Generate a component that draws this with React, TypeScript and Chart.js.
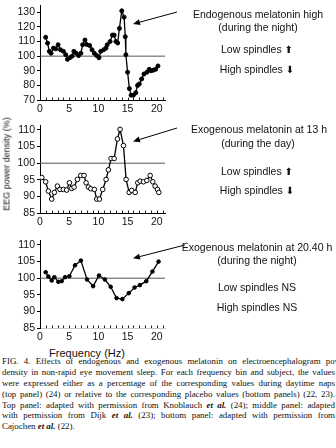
import React, { useEffect, useRef } from "react";
import { Chart, registerables } from "chart.js";
Chart.register(...registerables);

// ---------- data ----------
const freqTicks = [0, 5, 10, 15, 20];
const baselineValue = 100;
const freqMax = 21.4;

const endoYTicks = [70, 80, 90, 100, 110, 120, 130];
const exoYTicks = [85, 90, 95, 100, 105, 110];

// top panel: endogenous melatonin high (during the night)
const endoFreq = [0.97, 1.3, 1.6, 1.9, 2.3, 2.7, 3.1, 3.5, 4.0, 4.4, 4.7, 5.1, 5.5, 5.8, 6.2, 6.6, 7.0, 7.3, 7.7, 8.0, 8.5, 8.9, 9.3, 9.7, 10.1, 10.4, 10.9, 11.3, 11.5, 12.0, 12.4, 12.7, 13.0, 13.3, 13.6, 14.0, 14.4, 14.6, 14.7, 15.0, 15.3, 15.6, 16.0, 16.4, 16.7, 17.0, 17.4, 17.8, 18.3, 18.7, 19.0, 19.4, 19.8, 20.2];
const endoPower = [112.9, 108.9, 103.3, 102, 105.5, 105, 107.8, 104.4, 103.3, 101, 97.8, 98.9, 100, 103.3, 102, 100.4, 102, 107.8, 111, 108, 107.3, 104.4, 102, 100.4, 98.9, 103.3, 104.4, 105.5, 107.8, 110, 114.4, 114.4, 110, 109, 119, 131, 126.7, 113.3, 101, 89, 77.8, 73.3, 73.3, 75, 80, 81, 84.4, 87.8, 89, 91, 90, 90.4, 91, 93.3];

// middle panel: exogenous melatonin at 13 h (during the day)
const exo13Freq = [0.3, 0.97, 1.43, 2.0, 2.46, 2.97, 3.43, 4.0, 4.57, 5.03, 5.43, 5.83, 6.4, 6.97, 7.54, 7.89, 8.29, 8.69, 9.31, 9.71, 10.17, 10.74, 11.31, 11.71, 12.17, 12.69, 13.26, 13.71, 14.29, 14.74, 15.26, 15.71, 16.29, 16.74, 17.14, 17.71, 18.29, 18.86, 19.31, 19.71, 20.11, 20.35];
const exo13Power = [95.7, 94.4, 91.6, 89.2, 91.2, 93.1, 92.1, 92.1, 91.9, 94.1, 92.4, 92.8, 95.1, 96.3, 96.3, 94.1, 92.8, 92.3, 92.1, 89.2, 89.2, 92.1, 95.1, 98, 101.4, 101.4, 107.3, 110.2, 105.3, 95.1, 91.2, 91.8, 91.2, 94.1, 94.6, 94.4, 94.8, 96.3, 94.4, 93.1, 92.1, 91.2];

// bottom panel: exogenous melatonin at 20.40 h (during the night)
const exo2040Freq = [0.97, 1.43, 2.0, 2.46, 3.14, 3.71, 4.29, 5.03, 6.0, 7.0, 8.05, 9.1, 10.1, 11.1, 12.1, 13.1, 14.1, 15.2, 16.2, 17.1, 18.2, 19.25, 20.3];
const exo2040Power = [101.8, 100.5, 99.3, 100.3, 98.9, 99.1, 100.3, 100.6, 103.9, 105.3, 99.6, 97.6, 100.8, 99.6, 97.4, 94, 93.7, 95.5, 97.2, 97.9, 99.1, 102, 105];

// ---------- helpers ----------
const SANS = "'Liberation Sans', Arial, Helvetica, sans-serif";

type PanelCfg = {
  freq: number[];
  power: number[];
  yMin: number;
  yMax: number;
  yTicks: number[];
  pointRadius: number;
  pointFill: string;
  xBorderColor: string;
  arrow: { x1: number; y1: number; x2: number; y2: number };
};

function buildChart(canvas: HTMLCanvasElement, cfg: PanelCfg) {
  const extras = {
    id: "extras",
    afterDraw(chart: any) {
      const ctx = chart.ctx as CanvasRenderingContext2D;
      const xs = chart.scales.x;
      const bottom = chart.chartArea.bottom;
      ctx.save();
      ctx.strokeStyle = "#222";
      ctx.lineWidth = 1;
      ctx.beginPath();
      for (let f = 1; f <= 21; f++) {
        const px = Math.round(xs.getPixelForValue(f)) + 0.5;
        ctx.moveTo(px, bottom);
        ctx.lineTo(px, bottom - 2.5);
      }
      ctx.stroke();
      // annotation arrow
      const { x1, y1, x2, y2 } = cfg.arrow;
      ctx.strokeStyle = "#000";
      ctx.fillStyle = "#000";
      ctx.lineWidth = 1;
      const ang = Math.atan2(y2 - y1, x2 - x1);
      const hl = 7;
      const hw = 3;
      const bx = x2 - hl * Math.cos(ang);
      const by = y2 - hl * Math.sin(ang);
      ctx.beginPath();
      ctx.moveTo(x1, y1);
      ctx.lineTo(bx, by);
      ctx.stroke();
      ctx.beginPath();
      ctx.moveTo(x2, y2);
      ctx.lineTo(bx + hw * Math.sin(ang), by - hw * Math.cos(ang));
      ctx.lineTo(bx - hw * Math.sin(ang), by + hw * Math.cos(ang));
      ctx.closePath();
      ctx.fill();
      ctx.restore();
    },
  };

  return new Chart(canvas, {
    type: "line",
    data: {
      datasets: [
        {
          data: cfg.freq.map((f, i) => ({ x: f, y: cfg.power[i] })),
          borderColor: "#000",
          borderWidth: 1.3,
          pointRadius: cfg.pointRadius,
          pointBackgroundColor: cfg.pointFill,
          pointBorderColor: "#000",
          pointBorderWidth: 1,
          tension: 0,
        },
        {
          data: [
            { x: 0, y: baselineValue },
            { x: freqMax, y: baselineValue },
          ],
          borderColor: "#555",
          borderWidth: 1,
          pointRadius: 0,
          tension: 0,
        },
      ],
    },
    options: {
      animation: false,
      responsive: false,
      maintainAspectRatio: false,
      layout: { padding: { top: 2, right: 171, bottom: 0, left: 0 } },
      plugins: { legend: { display: false }, tooltip: { enabled: false } },
      scales: {
        x: {
          type: "linear",
          min: 0,
          max: freqMax,
          afterBuildTicks: (s: any) => {
            s.ticks = freqTicks.map((v) => ({ value: v }));
          },
          afterFit: (s: any) => {
            s.height = 14;
            s.paddingLeft = 0;
            s.paddingRight = 0;
          },
          grid: { display: false, drawTicks: false },
          border: { display: true, color: cfg.xBorderColor, width: 1 },
          ticks: {
            padding: 3,
            color: "#111",
            font: { family: SANS, size: 10.5 },
            maxRotation: 0,
            autoSkip: false,
          },
        },
        y: {
          type: "linear",
          min: cfg.yMin,
          max: cfg.yMax,
          afterBuildTicks: (s: any) => {
            s.ticks = cfg.yTicks.map((v) => ({ value: v }));
          },
          afterFit: (s: any) => {
            s.width = 40;
            s.paddingTop = 0;
            s.paddingBottom = 0;
          },
          grid: { display: true, drawOnChartArea: false, drawTicks: true, tickLength: 3, color: "#000" },
          border: { display: true, color: "#000", width: 1 },
          ticks: {
            padding: 2,
            color: "#111",
            font: { family: SANS, size: 10.5 },
            autoSkip: false,
          },
        },
      },
    },
    plugins: [extras],
  } as any);
}

function Panel(props: { top: number; height: number; cfg: PanelCfg }) {
  const ref = useRef<HTMLCanvasElement | null>(null);
  useEffect(() => {
    if (!ref.current) return;
    const c = buildChart(ref.current, props.cfg);
    return () => c.destroy();
  }, []);
  return (
    <canvas
      ref={ref}
      width={336}
      height={props.height}
      style={{ position: "absolute", left: 0, top: props.top, width: 336, height: props.height }}
    />
  );
}

function Label(props: { x: number; y: number; children: React.ReactNode; size?: number }) {
  return (
    <div
      style={{
        position: "absolute",
        left: props.x,
        top: props.y,
        transform: "translate(-50%, -50%)",
        whiteSpace: "nowrap",
        fontFamily: SANS,
        fontSize: props.size ?? 10.5,
        lineHeight: 1,
        color: "#111",
      }}
    >
      {props.children}
    </div>
  );
}

const up = <span style={{ fontFamily: "'DejaVu Sans', sans-serif", fontSize: 10 }}>⬆</span>;
const down = <span style={{ fontFamily: "'DejaVu Sans', sans-serif", fontSize: 10 }}>⬇</span>;

const etal = (
  <b>
    <i>et al.</i>
  </b>
);

function CapLine(props: { children: React.ReactNode; last?: boolean; width?: number }) {
  return (
    <div
      style={{
        width: props.width ?? 333,
        textAlign: props.last ? "left" : "justify",
        textAlignLast: props.last ? "left" : "justify",
        height: 10.9,
        overflow: "hidden",
      } as any}
    >
      {props.children}
    </div>
  );
}

export default function App() {
  const p1: PanelCfg = {
    freq: endoFreq,
    power: endoPower,
    yMin: 70,
    yMax: 135,
    yTicks: endoYTicks,
    pointRadius: 2,
    pointFill: "#000",
    xBorderColor: "#000",
    arrow: { x1: 177, y1: 12, x2: 133, y2: 24 },
  };
  const p2: PanelCfg = {
    freq: exo13Freq,
    power: exo13Power,
    yMin: 85,
    yMax: 111.5,
    yTicks: exoYTicks,
    pointRadius: 2.3,
    pointFill: "#fff",
    xBorderColor: "#000",
    arrow: { x1: 177, y1: 8, x2: 133, y2: 21.5 },
  };
  const p3: PanelCfg = {
    freq: exo2040Freq,
    power: exo2040Power,
    yMin: 85,
    yMax: 111.5,
    yTicks: exoYTicks,
    pointRadius: 1.8,
    pointFill: "#000",
    xBorderColor: "#c8c8c8",
    arrow: { x1: 185, y1: 10, x2: 133, y2: 23.3 },
  };

  return (
    <div
      style={{
        position: "fixed",
        left: 0,
        top: 0,
        width: 336,
        height: 448,
        overflow: "hidden",
        background: "#fff",
      }}
    >
      <Panel top={0} height={114} cfg={p1} />
      <Panel top={120} height={107} cfg={p2} />
      <Panel top={235} height={107} cfg={p3} />

      <Label x={258} y={13.5}>Endogenous melatonin high</Label>
      <Label x={258} y={26.5}>(during the night)</Label>
      <Label x={257} y={49}>Low spindles {up}</Label>
      <Label x={257} y={69}>High spindles {down}</Label>

      <Label x={259} y={128.5}>Exogenous melatonin at 13 h</Label>
      <Label x={258} y={142.5}>(during the day)</Label>
      <Label x={257} y={170.5}>Low spindles {up}</Label>
      <Label x={257} y={190}>High spindles {down}</Label>

      <Label x={257} y={246.7}>Exogenous melatonin at 20.40 h</Label>
      <Label x={257} y={259.5}>(during the night)</Label>
      <Label x={257} y={286.7}>Low spindles NS</Label>
      <Label x={257} y={306.7}>High spindles NS</Label>

      <div
        style={{
          position: "absolute",
          left: 7,
          top: 164,
          transform: "translate(-50%, -50%) rotate(-90deg)",
          whiteSpace: "nowrap",
          fontFamily: SANS,
          fontSize: 9,
          lineHeight: 1,
          color: "#111",
        }}
      >
        EEG power density (%)
      </div>

      <Label x={87} y={353} size={11}>Frequency (Hz)</Label>

      <div
        style={{
          position: "absolute",
          left: 2,
          top: 356,
          fontFamily: "'Liberation Serif', 'Times New Roman', serif",
          fontSize: 8.9,
          lineHeight: "10.9px",
          color: "#111",
        }}
      >
        <CapLine width={346}>FIG. 4. Effects  of endogenous and exogenous melatonin on electroencephalogram power</CapLine>
        <CapLine>density in non-rapid eye movement sleep. For each frequency bin and subject, the values</CapLine>
        <CapLine>were expressed either as a percentage of the corresponding values during daytime naps</CapLine>
        <CapLine>(top panel) (24) or relative to the corresponding placebo values (bottom panels) (22, 23).</CapLine>
        <CapLine>Top panel: adapted with permission from Knoblauch {etal} (24); middle panel: adapted</CapLine>
        <CapLine>with permission from Dijk {etal} (23); bottom panel: adapted with permission from</CapLine>
        <CapLine last>Cajochen {etal} (22).</CapLine>
      </div>
    </div>
  );
}
